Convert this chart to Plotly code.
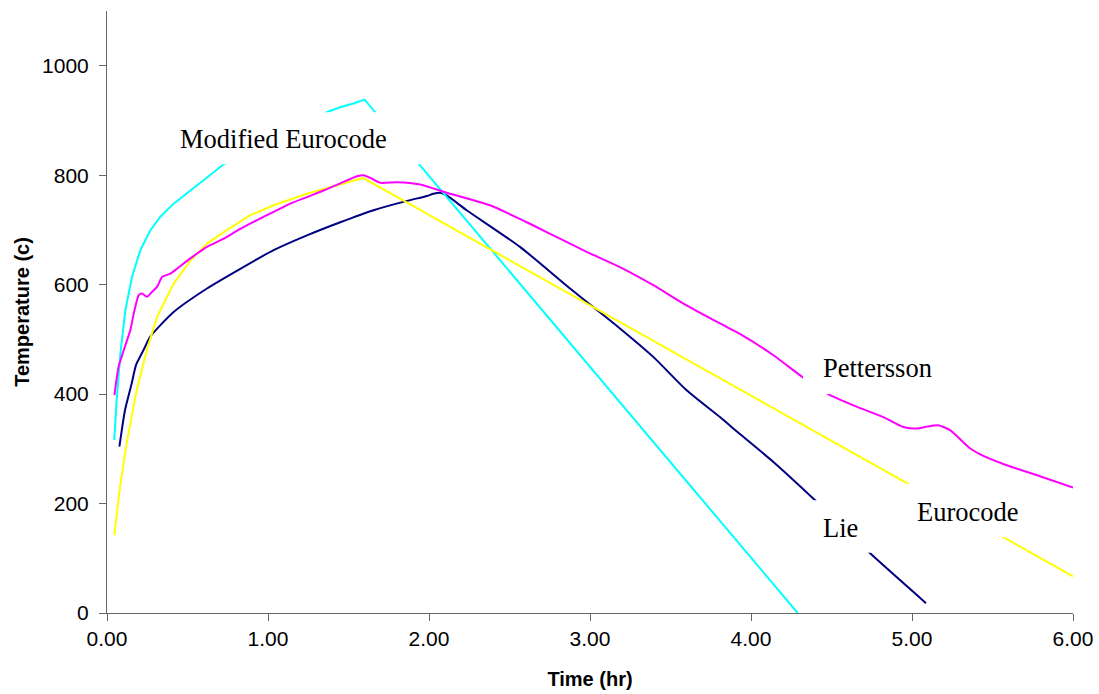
import plotly.graph_objects as go

# Time (hr) / temperature (c) readings for each fire curve
lie_t = [0.077, 0.112, 0.153, 0.180, 0.226, 0.269, 0.414, 0.621, 0.828, 1.035, 1.242,
         1.449, 1.656, 1.863, 1.988, 2.027, 2.068, 2.110, 2.234, 2.565, 2.876, 3.186, 3.393,
         3.600, 3.807, 3.931, 4.139, 4.398, 4.740, 5.087]
lie_T = [304, 371, 419, 453, 480, 505, 550, 593, 629, 663, 690,
         714, 736, 753, 762, 766, 768, 763, 736, 669, 593, 520, 468,
         407, 358, 327, 276, 206, 109, 18]

mod_t = [0.045, 0.060, 0.083, 0.114, 0.155, 0.207, 0.269, 0.331, 0.414, 0.518, 0.621, 0.725,
         1.365, 1.447, 1.530, 1.600, 4.290]
mod_T = [316, 389, 474, 553, 614, 663, 699, 724, 748, 772, 797, 820,
         915, 924, 931, 938, 0]

euro_t = [0.045, 0.081, 0.122, 0.184, 0.247, 0.311, 0.414, 0.518, 0.621, 0.725, 0.890, 1.035,
          1.242, 1.449, 1.590, 6.000]
euro_T = [142, 231, 310, 407, 480, 541, 602, 644, 675, 696, 727, 745,
          766, 783, 795, 67]

pet_t = [0.046, 0.072, 0.104, 0.145, 0.166, 0.197, 0.217, 0.248, 0.280, 0.311, 0.342, 0.393,
         0.435, 0.518, 0.621, 0.725, 0.828, 0.932, 1.035, 1.139, 1.242, 1.346, 1.449, 1.553,
         1.594, 1.636, 1.696, 1.799, 1.944, 2.110, 2.379, 2.607, 2.772, 2.979, 3.186, 3.393,
         3.600, 3.807, 3.931, 4.139, 4.325, 4.480, 4.656, 4.822, 4.946, 5.029, 5.100, 5.163,
         5.236, 5.360, 5.443, 5.588, 5.795, 6.000]
pet_T = [398, 450, 480, 517, 547, 581, 584, 578, 587, 596, 614, 620,
         629, 648, 669, 684, 702, 718, 733, 748, 760, 772, 785, 798,
         800, 795, 786, 787, 783, 768, 745, 714, 690, 660, 632, 599,
         562, 529, 510, 471, 430, 400, 377, 358, 340, 337, 341, 343,
         334, 301, 287, 270, 250, 229]

x_ticks = [0, 1, 2, 3, 4, 5, 6]
y_ticks = [0, 200, 400, 600, 800, 1000]

# name, times, temperatures, colour, smoothed
series = [
    ("Lie", lie_t, lie_T, "#000080", True),
    ("Modified Eurocode", mod_t, mod_T, "#00FFFF", False),
    ("Eurocode", euro_t, euro_T, "#FFFF00", False),
    ("Pettersson", pet_t, pet_T, "#FF00FF", True),
]

fig = go.Figure()
for name, t, T, color, smooth in series:
    line = dict(color=color, width=2)
    if smooth:
        line.update(shape="spline", smoothing=0.6)
    fig.add_trace(go.Scatter(x=t, y=T, mode="lines", name=name, line=line))

# Curve labels sit on opaque white boxes laid over the lines
labels = [
    # text, box (t0, t1, T0, T1), text anchor (t, T)
    ("Modified Eurocode", (0.329, 1.975, 820, 915), (0.440, 866)),
    ("Pettersson", (4.323, 5.255, 400, 495), (4.435, 448)),
    ("Lie", (4.323, 4.789, 110, 206), (4.435, 155)),
    ("Eurocode", (4.907, 5.783, 139, 236), (5.020, 185)),
]
for text, (x0, x1, y0, y1), (tx, ty) in labels:
    fig.add_shape(type="rect", xref="x", yref="y", x0=x0, x1=x1, y0=y0, y1=y1,
                  fillcolor="white", line=dict(width=0), layer="above")
    fig.add_annotation(x=tx, y=ty, xref="x", yref="y", text=text, showarrow=False,
                       xanchor="left", yanchor="middle",
                       font=dict(family="Liberation Serif, Times New Roman, serif",
                                 size=26.5, color="black"))

axis_font = dict(family="Liberation Sans, Arial, sans-serif", size=21, color="black")
title_font = dict(family="Liberation Sans, Arial, sans-serif", size=20, color="black",
                  weight="bold")

fig.update_layout(
    width=1099, height=694,
    margin=dict(l=107, r=26, t=11, b=81, autoexpand=False),
    plot_bgcolor="white", paper_bgcolor="white",
    showlegend=False,
)
fig.update_xaxes(
    range=[0, 6], tickvals=x_ticks, tickformat=".2f", automargin=False,
    showgrid=False, zeroline=False, showline=True, linecolor="#666666", linewidth=1,
    ticks="outside", ticklen=7, tickcolor="#666666", tickfont=axis_font,
    title=dict(text="Time (hr)", font=title_font, standoff=22),
)
fig.update_yaxes(
    range=[0, 1100], tickvals=y_ticks, automargin=False,
    showgrid=False, zeroline=False, showline=True, linecolor="#666666", linewidth=1,
    ticks="outside", ticklen=7, tickcolor="#666666", tickfont=axis_font,
    ticklabelstandoff=6,
    title=dict(text="Temperature (c)", font=title_font, standoff=7),
)

fig.write_html("out.html")
